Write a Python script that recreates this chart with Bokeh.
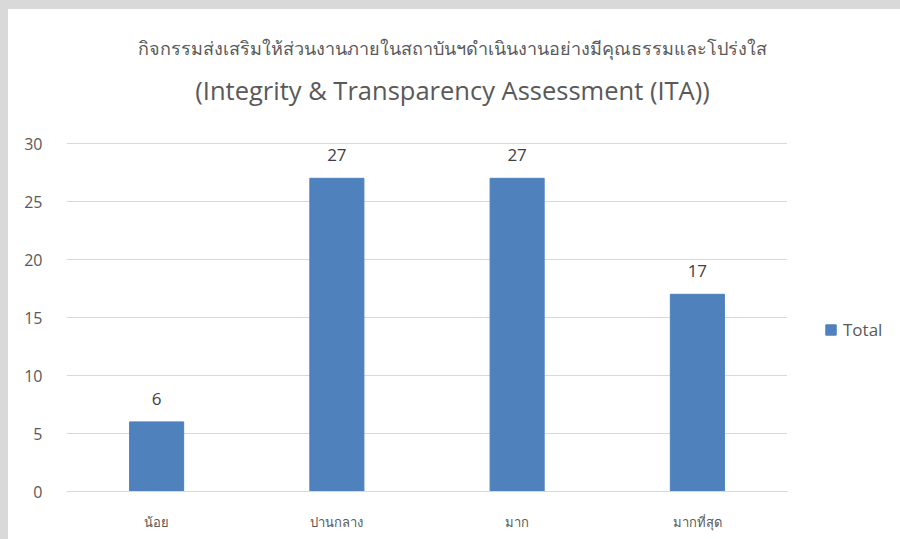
from bokeh.plotting import figure
from bokeh.layouts import row
from bokeh.models import ColumnDataSource, FactorRange, Range1d, Legend, LegendItem, LabelSet, FixedTicker, Label
from bokeh.core.properties import value
from bokeh.embed import file_html
from bokeh.resources import INLINE

categories = ["น้อย", "ปานกลาง", "มาก", "มากที่สุด"]
values = [6, 27, 27, 17]
series_name = "Total"
title_line1 = "กิจกรรมส่งเสริมให้ส่วนงานภายในสถาบันฯดำเนินงานอย่างมีคุณธรรมและโปร่งใส"
title_line2 = "(Integrity & Transparency Assessment (ITA))"
y_ticks = [0, 5, 10, 15, 20, 25, 30]

FONT = "Open Sans"
TXT = "#595959"
BAR = "#4f81bd"

W, H = 779, 530          # main figure (frame right edge = figure right edge)
LW = 892 - W             # legend strip width
FRAME_BOTTOM = 482
PX_PER_30 = 348
y_top = 30 * FRAME_BOTTOM / PX_PER_30

src = ColumnDataSource(dict(cat=categories, val=values, lbl=[str(v) for v in values]))

p = figure(width=W, height=H, x_range=FactorRange(*categories, range_padding=0),
           y_range=Range1d(0, y_top), output_backend="svg", toolbar_location=None,
           min_border_left=58, min_border_right=0, min_border_top=0,
           min_border_bottom=H - FRAME_BOTTOM)
p.background_fill_color = "white"
p.border_fill_color = "white"
p.outline_line_color = None

r = p.vbar(x="cat", top="val", width=0.30, source=src, fill_color=BAR, line_color=BAR)

p.add_layout(LabelSet(x="cat", y="val", text="lbl", source=src, text_align="center",
                      text_baseline="middle", y_offset=23, text_font=value(FONT),
                      text_font_size="17px", text_color="#404040"))

p.yaxis.ticker = FixedTicker(ticks=y_ticks)
p.yaxis.axis_line_color = None
p.yaxis.major_tick_line_color = None
p.yaxis.minor_tick_line_color = None
p.yaxis.major_label_standoff = 18
p.yaxis.major_label_text_font = FONT
p.yaxis.major_label_text_font_size = "16px"
p.yaxis.major_label_text_color = TXT

p.xaxis.axis_line_color = "#d9d9d9"
p.xaxis.major_tick_line_color = None
p.xaxis.minor_tick_line_color = None
p.xaxis.major_label_standoff = 15
p.xaxis.major_label_text_font = FONT
p.xaxis.major_label_text_font_size = "13px"
p.xaxis.major_label_text_color = TXT

p.xgrid.grid_line_color = None
p.ygrid.grid_line_color = "#d9d9d9"
p.ygrid.ticker = FixedTicker(ticks=y_ticks)

# titles inside the (tall) frame; screen units from frame bottom-left
p.add_layout(Label(x=386, y=FRAME_BOTTOM - 38, x_units="screen", y_units="screen", text=title_line1,
                   text_align="center", text_baseline="middle", text_font=FONT,
                   text_font_size="18px", text_color=TXT))
p.add_layout(Label(x=386, y=FRAME_BOTTOM - 80, x_units="screen", y_units="screen", text=title_line2,
                   text_align="center", text_baseline="middle", text_font=FONT,
                   text_font_size="25.5px", text_color=TXT))

# legend strip (its frame is aligned with the main frame by the row layout)
pl = figure(width=LW, height=H, x_range=Range1d(0, 1), y_range=Range1d(0, 1),
            output_backend="svg", toolbar_location=None,
            min_border_left=0, min_border_right=0, min_border_top=0, min_border_bottom=0)
pl.axis.visible = False
pl.grid.visible = False
pl.outline_line_color = None
pl.background_fill_color = "white"
pl.border_fill_color = "white"
# legend proxy: one bar placed outside the strip's visible range
lr = pl.vbar(x=[-5], top=[-5], width=0.3, fill_color=BAR, line_color=BAR)

legend = Legend(items=[LegendItem(label=series_name, renderers=[lr])],
                location=(37, FRAME_BOTTOM - 332), padding=0, margin=0,
                glyph_width=13, glyph_height=13, label_height=13, label_standoff=6,
                label_text_font=FONT, label_text_font_size="17px", label_text_color=TXT,
                border_line_color=None, background_fill_alpha=0)
pl.add_layout(legend)

layout = row(p, pl, spacing=0, styles={"background-color": "white"})

html = file_html(layout, INLINE)
css = "<style>html,body{margin:0 !important;background:#d9d9d9 !important;} body{padding:9px 0 0 8px !important;box-sizing:border-box;}</style>"
html = html.replace("</head>", css + "</head>", 1)
open("out.html", "w").write(html)
